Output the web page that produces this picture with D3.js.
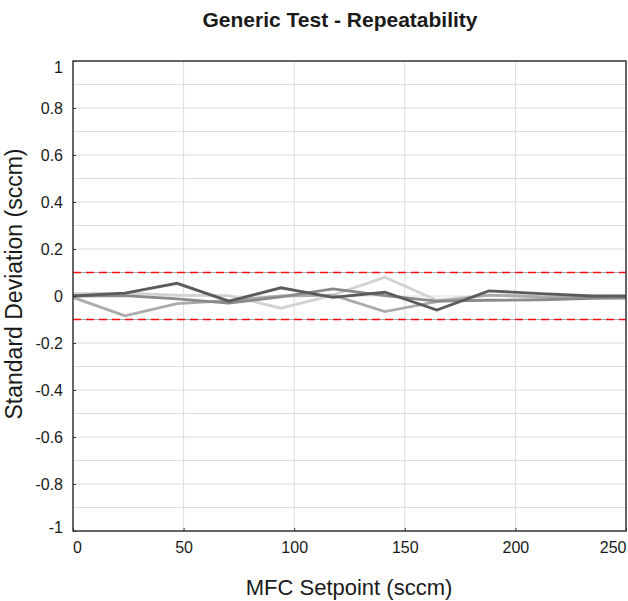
<!DOCTYPE html>
<html>
<head>
<meta charset="utf-8">
<script src="https://cdn.jsdelivr.net/npm/d3@7"></script>
<style>
  body { margin: 0; background: #fff; }
  text { font-family: "Liberation Sans", Arial, sans-serif; fill: #1a1a1a; }
</style>
</head>
<body>
<script>
// Repeatability chart - std dev per setpoint, 4 runs
var width = 628;
var height = 601;

var margin = {
  top: 61,
  left: 73,
  right: 2,
  bottom: 70
};

// setpoints (sccm)
var setpoints = [0, 23.5, 47, 70.5, 94, 117.5, 141, 164.5, 188, 211.5, 235, 258.5];

// the four runs, darkest first
var run1 = [0, 0.012, 0.054, -0.022, 0.035, -0.006, 0.016, -0.06, 0.022, 0.01, 0, 0];
var run2 = [0, 0.002, -0.012, -0.03, -0.004, 0.03, 0.002, -0.022, -0.018, -0.016, -0.01, -0.008];
var run3 = [-0.006, -0.084, -0.032, -0.02, 0, 0.004, -0.066, -0.024, 0.004, -0.004, -0.006, -0.006];
var run4 = [0.01, 0.012, 0.004, 0.002, -0.052, 0.004, 0.08, -0.018, 0.004, 0, -0.002, -0.002];
var runColors = ["#5b5b5b", "#8a8a8a", "#ababab", "#d2d2d2"];

var limits = [0.1, -0.1];
var xTicks = [0, 50, 100, 150, 200, 250];
var yTicks = [1, 0.8, 0.6, 0.4, 0.2, 0, -0.2, -0.4, -0.6, -0.8, -1];
var yTickLabels = ["1", "0.8", "0.6", "0.4", "0.2", "0", "-0.2", "-0.4", "-0.6", "-0.8", "-1"];

var svg = d3.select("body")
  .append("svg")
  .attr("width", width)
  .attr("height", height);

var xScale = d3.scaleLinear()
  .domain([0, 250])
  .range([margin.left, width - margin.right]);

var yScale = d3.scaleLinear()
  .domain([-1, 1])
  .range([height - margin.bottom, margin.top]);

// clip for lines
svg.append("clipPath").attr("id", "plot")
  .append("rect")
  .attr("x", xScale(0)).attr("y", yScale(1))
  .attr("width", xScale(250) - xScale(0))
  .attr("height", yScale(-1) - yScale(1));

// grid
svg.append("g")
  .selectAll("line")
  .data(d3.range(-9, 10).map(function(d) { return d / 10; }))
  .enter().append("line")
    .attr("x1", xScale(0)).attr("x2", xScale(250))
    .attr("y1", function(d) { return yScale(d); })
    .attr("y2", function(d) { return yScale(d); })
    .attr("stroke", function(d) { return Math.abs(Math.abs(d) - 0.1) < 1e-9 ? "#a8a8a8" : "#dcdcdc"; })
    .attr("stroke-width", 1);

svg.append("g")
  .selectAll("line")
  .data([50, 100, 150, 200])
  .enter().append("line")
    .attr("x1", function(d) { return xScale(d); })
    .attr("x2", function(d) { return xScale(d); })
    .attr("y1", yScale(1)).attr("y2", yScale(-1))
    .attr("stroke", "#dcdcdc")
    .attr("stroke-width", 1);

// limit lines
svg.append("g")
  .selectAll("line")
  .data(limits)
  .enter().append("line")
    .attr("x1", xScale(0)).attr("x2", xScale(250))
    .attr("y1", function(d) { return yScale(d); })
    .attr("y2", function(d) { return yScale(d); })
    .attr("stroke", "#ff1010")
    .attr("stroke-width", 1.6)
    .attr("stroke-dasharray", "8,5");

// runs
var runs = [run4, run3, run2, run1];
var cols = [runColors[3], runColors[2], runColors[1], runColors[0]];
var line = d3.line()
  .x(function(d, i) { return xScale(setpoints[i]); })
  .y(function(d) { return yScale(d); });

svg.append("g")
  .attr("clip-path", "url(#plot)")
  .selectAll("path")
  .data(runs)
  .enter().append("path")
    .attr("d", line)
    .attr("fill", "none")
    .attr("stroke", function(d, i) { return cols[i]; })
    .attr("stroke-width", 2.8)
    .attr("stroke-linejoin", "miter");

// frame
svg.append("rect")
  .attr("x", xScale(0)).attr("y", yScale(1))
  .attr("width", xScale(250) - xScale(0))
  .attr("height", yScale(-1) - yScale(1))
  .attr("fill", "none")
  .attr("stroke", "#333")
  .attr("stroke-width", 1.5);

// axes
var xAxis = svg.append("g")
  .attr("transform", "translate(0," + yScale(-1) + ")")
  .call(d3.axisBottom(xScale).tickValues(xTicks).tickSize(-3).tickPadding(11));

var yAxis = svg.append("g")
  .attr("transform", "translate(" + xScale(0) + ",0)")
  .call(d3.axisLeft(yScale).tickValues(yTicks).tickSize(-3).tickPadding(10)
    .tickFormat(function(d, i) { return yTickLabels[i]; }));

[xAxis, yAxis].forEach(function(ax) {
  ax.select(".domain").remove();
  ax.selectAll(".tick line").attr("stroke", "#333");
  ax.selectAll("text").style("font-size", "16px").attr("fill", "#1a1a1a");
});

xAxis.selectAll(".tick text")
  .attr("dx", function(d) { return d === 0 ? 4 : 0; })
  .attr("text-anchor", function(d) { return d === 250 ? "end" : "middle"; });

yAxis.selectAll(".tick text")
  .attr("dy", function(d) { return d === 1 ? "0.72em" : (d === -1 ? "0.12em" : "0.32em"); });

// titles
svg.append("text")
  .attr("x", 340).attr("y", 27)
  .attr("text-anchor", "middle")
  .style("font-size", "21px")
  .style("font-weight", "bold")
  .text("Generic Test - Repeatability");

svg.append("text")
  .attr("x", 349).attr("y", 595)
  .attr("text-anchor", "middle")
  .style("font-size", "22px")
  .text("MFC Setpoint (sccm)");

svg.append("text")
  .attr("transform", "translate(22," + 284 + ") rotate(-90)")
  .attr("text-anchor", "middle")
  .style("font-size", "23px")
  .text("Standard Deviation (sccm)");
</script>
</body>
</html>
